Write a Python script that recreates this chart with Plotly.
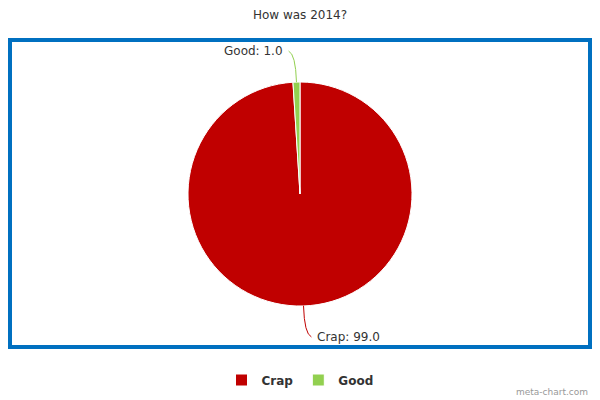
import math
import plotly.graph_objects as go

# data
labels = ["Crap", "Good"]
values = [99.0, 1.0]
colors = ["#c00000", "#92d050"]

W, H = 600, 400
cx, cy, rad = 300, 194, 112   # pie centre / radius in px


def px_x(x):
    return x / W


def px_y(y):
    return 1 - y / H


fig = go.Figure()
fig.add_trace(go.Pie(
    labels=labels,
    values=values,
    marker=dict(colors=colors, line=dict(color="white", width=1)),
    sort=False,
    direction="clockwise",
    rotation=0,
    textinfo="none",
    hoverinfo="label+value",
    domain=dict(x=[px_x(cx - rad), px_x(cx + rad)], y=[px_y(cy + rad), px_y(cy - rad)]),
))

# leader lines + outside labels, placed from slice mid angles
shapes = []
annotations = []
total = sum(values)
cum = 0
for lab, val, col in zip(labels, values, colors):
    mid = (cum + val / 2) / total * 2 * math.pi
    cum += val
    dx, dy = math.sin(mid), -math.cos(mid)
    p = (cx + rad * dx, cy + rad * dy)
    c = (cx + (rad + 28) * dx, cy + (rad + 28) * dy)
    side = 1 if dx >= 0 else -1
    e = (c[0] + 7 * side, c[1] + 3 * (1 if dy > 0 else -1))
    path = "M %f,%f Q %f,%f %f,%f" % (px_x(p[0]), px_y(p[1]), px_x(c[0]), px_y(c[1]), px_x(e[0]), px_y(e[1]))
    shapes.append(dict(type="path", path=path, xref="paper", yref="paper",
                       line=dict(color=col, width=1)))
    annotations.append(dict(
        x=px_x(e[0] + 4 * side), y=px_y(e[1]), xref="paper", yref="paper",
        text="%s: %.1f" % (lab, val), showarrow=False,
        xanchor="left" if side > 0 else "right", yanchor="middle",
        font=dict(size=12, color="#333333"),
    ))

# blue frame
shapes.append(dict(type="rect", xref="paper", yref="paper",
                   x0=px_x(10), x1=px_x(590), y0=px_y(347), y1=px_y(40),
                   line=dict(color="#0070c0", width=4)))

annotations.append(dict(x=px_x(590), y=px_y(392), xref="paper", yref="paper",
                        text="meta-chart.com", showarrow=False, xanchor="right",
                        yanchor="middle", font=dict(size=9, color="#999999")))

fig.update_layout(
    width=W, height=H,
    margin=dict(l=0, r=0, t=0, b=0),
    paper_bgcolor="white",
    font=dict(family="DejaVu Sans, Verdana, sans-serif", color="#333333"),
    title=dict(text="How was 2014?", x=0.5, y=1 - 15 / H, xanchor="center", yanchor="middle",
               font=dict(size=12, color="#333333")),
    legend=dict(orientation="h", x=0.5, xanchor="center", y=px_y(380), yanchor="middle",
                font=dict(size=12, color="#333333", weight="bold"), itemwidth=30),
    shapes=shapes,
    annotations=annotations,
)

# page body margin would shift the 600x400 figure off the window
fig.write_html("out.html", config={"displayModeBar": False},
               post_script="document.body.style.margin='0';document.body.style.overflow='hidden';")
